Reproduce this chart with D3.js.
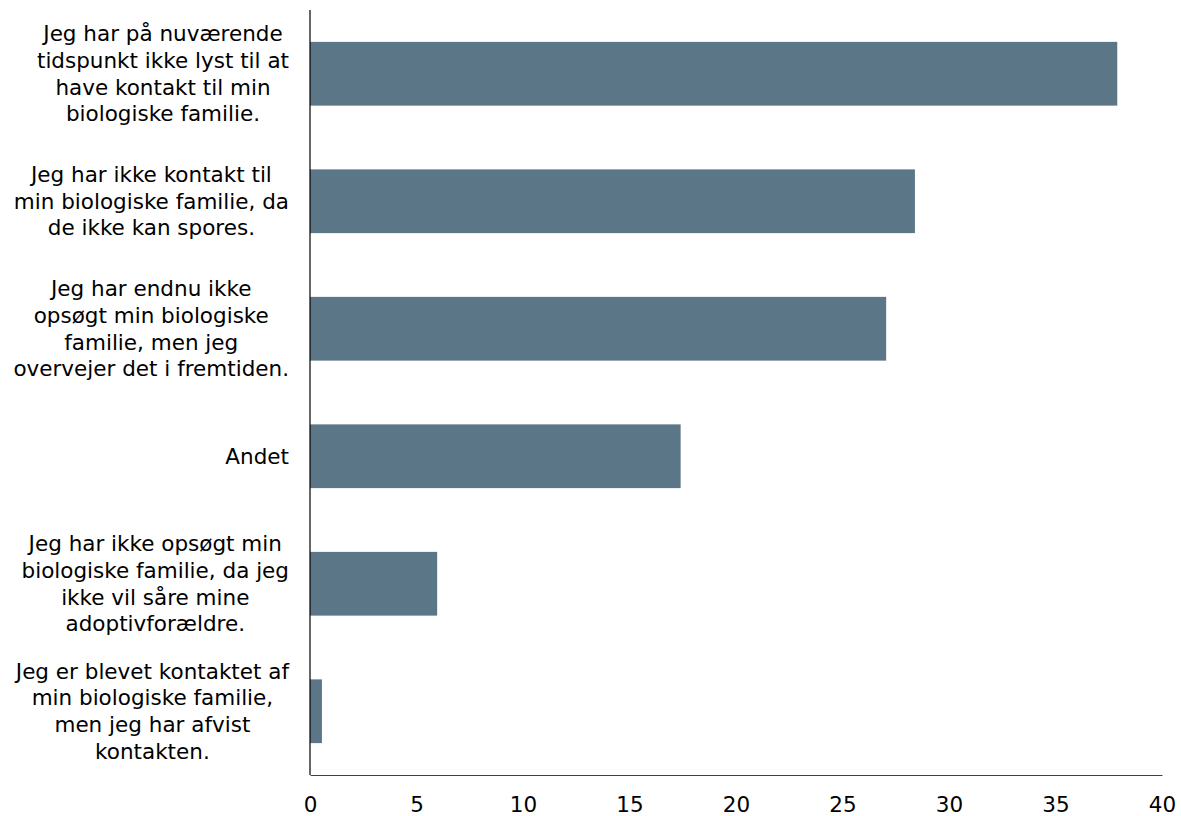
<!DOCTYPE html>
<html><head><meta charset="utf-8">
<script src="https://cdn.jsdelivr.net/npm/d3@7"></script>
<style>body{margin:0;background:#fff}</style>
</head><body>
<svg id="c" width="1181" height="816"></svg>
<script>
const categories = [
  ["Jeg har på nuværende","tidspunkt ikke lyst til at","have kontakt til min","biologiske familie."],
  ["Jeg har ikke kontakt til","min biologiske familie, da","de ikke kan spores."],
  ["Jeg har endnu ikke","opsøgt min biologiske","familie, men jeg","overvejer det i fremtiden."],
  ["Andet"],
  ["Jeg har ikke opsøgt min","biologiske familie, da jeg","ikke vil såre mine","adoptivforældre."],
  ["Jeg er blevet kontaktet af","min biologiske familie,","men jeg har afvist","kontakten."]
];
const values = [37.9, 28.4, 27.05, 17.4, 5.97, 0.56];
const ticks = [0,5,10,15,20,25,30,35,40];

(function(){
const svg = d3.select("#c");
const mLeft = 310, mRight = 1162, mTop = 10, mBottom = 775;
const x = d3.scaleLinear().domain([0,40]).range([mLeft,mRight]);
const y = d3.scaleBand().domain(d3.range(categories.length)).range([mTop,mBottom]).paddingInner(0.5).paddingOuter(0.25);
const font = "'DejaVu Sans', Verdana, sans-serif";
const fs = 21.5;

svg.selectAll("rect.bar").data(values).join("rect")
  .attr("class","bar")
  .attr("x", x(0)).attr("y",(d,i)=>y(i))
  .attr("width", d=>x(d)-x(0)).attr("height", y.bandwidth())
  .attr("fill","#5b7686");

const xa = svg.append("g").attr("transform",`translate(0,${mBottom})`)
  .call(d3.axisBottom(x).tickValues(ticks).tickSize(0).tickPadding(22).tickSizeOuter(0));
xa.select(".domain").attr("stroke","#404040").attr("stroke-width",1.2);
xa.selectAll("text").attr("font-family",font).attr("font-size",fs).attr("fill","#000");

svg.append("line").attr("x1",mLeft).attr("x2",mLeft).attr("y1",mTop).attr("y2",mBottom)
  .attr("stroke","#000").attr("stroke-width",1.2);

const lh = 26.7, rightEdge = 289;
categories.forEach((lines,i)=>{
  const cy = y(i) + y.bandwidth()/2;
  const g = svg.append("g");
  const t = g.selectAll("text").data(lines).join("text")
    .attr("font-family",font).attr("font-size",fs).attr("fill","#000")
    .attr("text-anchor","middle").attr("dominant-baseline","central")
    .attr("y",(d,j)=> cy + (j-(lines.length-1)/2)*lh)
    .text(d=>d);
  let maxW = 0; t.each(function(){maxW=Math.max(maxW,this.getComputedTextLength());});
  t.attr("x", rightEdge - maxW/2);
});
})();
</script>
</body></html>
